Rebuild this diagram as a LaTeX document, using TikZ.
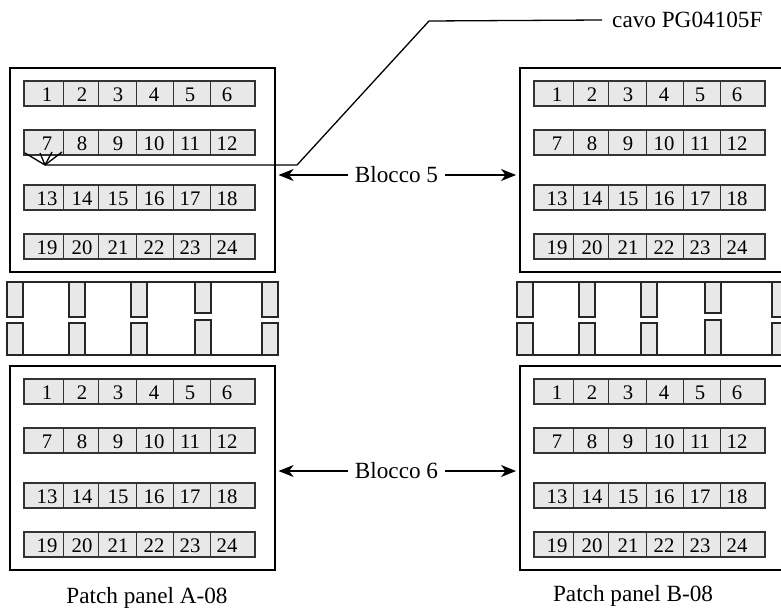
\documentclass[tikz,border=0pt]{standalone}
\usepackage{fontspec}
\setmainfont{Liberation Serif}
\usetikzlibrary{positioning,arrows.meta,calc}
\colorlet{portgray}{black!9}
\colorlet{edgegray}{black!80}
\tikzset{
  panel/.style={draw=black, line width=1.6pt, minimum width=265bp,
    minimum height=204bp, inner sep=0pt, anchor=north west},
  strip/.style={draw=edgegray, line width=1.3pt, fill=portgray},
  divider/.style={draw=edgegray, line width=1pt},
  num/.style={font=\fontsize{20.8}{22}\selectfont, inner sep=0pt},
  post/.style={draw=black!85, line width=1.6pt, fill=portgray},
  rail/.style={draw=black!85, line width=1.6pt},
  flow/.style={-{Stealth[length=15bp,width=12bp,inset=4.5bp]}, line width=1.2pt,
    shorten >=3bp},
  cable/.style={line width=1.3pt},
  tag/.style={font=\fontsize{23.3}{26}\selectfont, inner sep=7bp},
}

\begin{document}
\begin{tikzpicture}[x=1bp,y=-1bp]
\useasboundingbox (0,0) rectangle (781,612);
% four patch panels, four rows of six ports each
\foreach \p/\px/\py in {A5/9/67,B5/519/67,A6/9/365,B6/519/365}{
  \node[panel] (\p) at (\px,\py) {};
  \foreach \r/\ry in {0/14,1/63,2/118,3/167}{
    \draw[strip] ($(\p.north west)+(15,\ry)$) rectangle ++(231,25);
    \foreach \dx in {39,74,112,149,186}
      \draw[divider] ($(\p.north west)+(15+\dx,\ry)$) -- ++(0,25);
    \foreach \c/\cx in {1/23,2/58,3/94,4/130,5/166,6/203}{
      \pgfmathtruncatemacro\n{6*\r+\c}
      \node[num] (\p-\n) at ($(\p.north west)+(15+\cx,\ry+14)$) {\n};}
  }
}
% cable guides between the two blocks
\foreach \sx in {0,510}{
  \foreach \bx/\tb/\bt in {7/317/323,69/317/323,131/317/323,195/313/320,262/317/323}{
    \draw[post] (\sx+\bx,282) rectangle (\sx+\bx+16,\tb);
    \draw[post] (\sx+\bx,\bt) rectangle (\sx+\bx+16,355);}
  \draw[rail] (\sx+7,282) -- (\sx+278,282);
  \draw[rail] (\sx+7,355) -- (\sx+278,355);
}
\node[tag] (b5) at (396.5,175) {Blocco 5};
\draw[flow] (b5.west) -- (b5.west -| A5.east);
\draw[flow] (b5.east) -- (b5.east -| B5.west);
\node[tag] (b6) at (396.5,471) {Blocco 6};
\draw[flow] (b6.west) -- (b6.west -| A6.east);
\draw[flow] (b6.east) -- (b6.east -| B6.west);
% the cable plugged into port 7
\coordinate (plug) at ($(A5-7)+(-2,21)$);
\node[tag, anchor=west, inner xsep=10bp] (cavo) at (602,20) {cavo PG04105F};
\draw[cable] (plug) -- ++(252,0) -- ++(132,-144) -- (cavo.west);
\foreach \fx/\fy in {-20/-12,-5/-12,7/-13,17/-13}
  \draw[cable] (plug) -- ++(\fx,\fy);
\node[tag, anchor=base] (capA) at (147,603) {Patch panel A-08};
\node[tag, anchor=base] (capB) at (633,601) {Patch panel B-08};
\end{tikzpicture}
\end{document}
